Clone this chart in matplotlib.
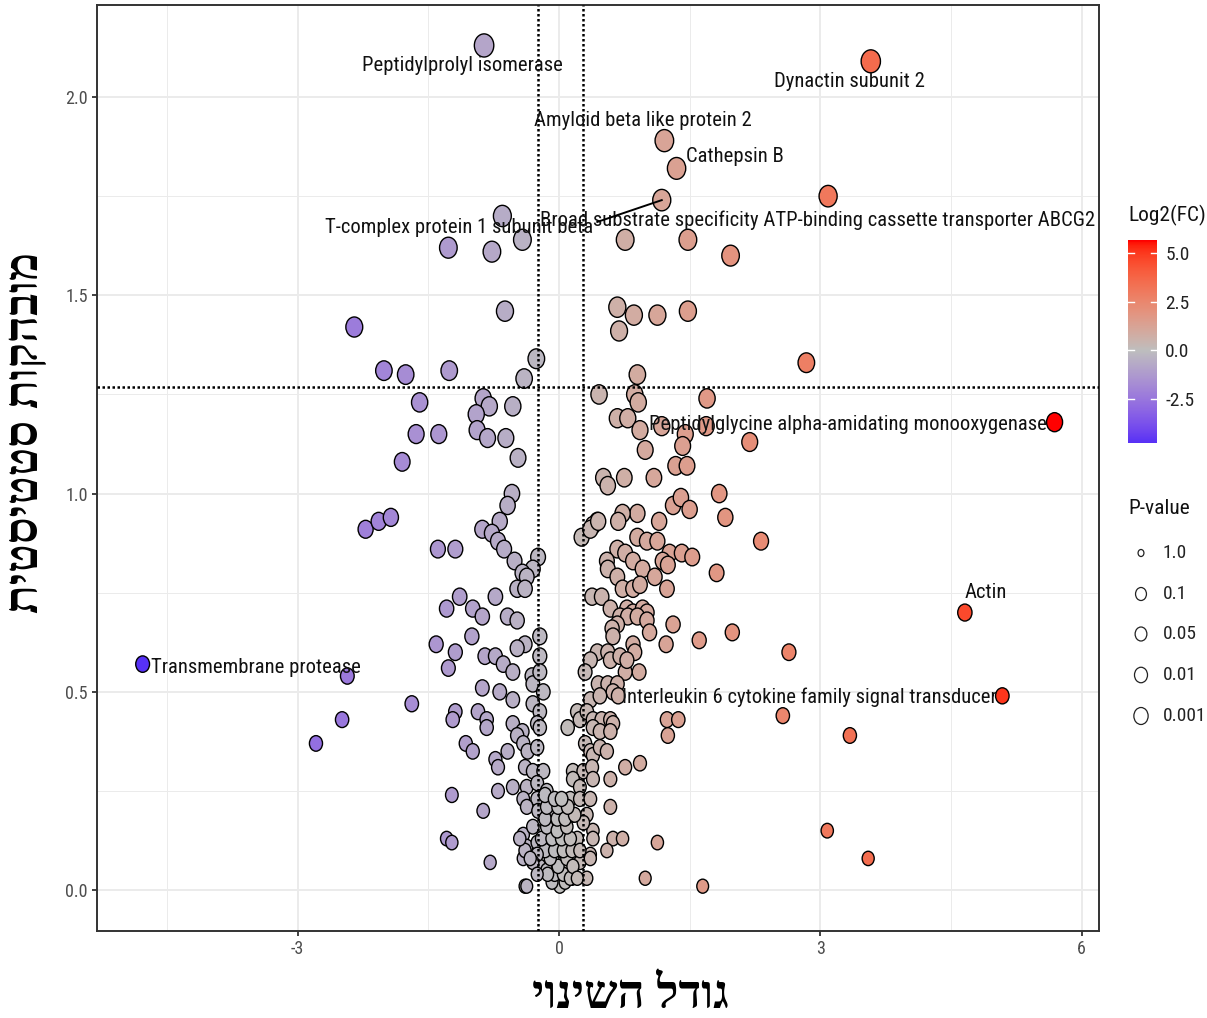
import numpy as np
import matplotlib
matplotlib.use("Agg")
import matplotlib.pyplot as plt
from matplotlib.path import Path
from matplotlib.colors import ListedColormap, Normalize
from matplotlib import font_manager

# ---------------- data ----------------
label_names = ["Peptidylprolyl isomerase", "Dynactin subunit 2", "Amyloid beta like protein 2",
               "Cathepsin B", "Broad substrate specificity ATP-binding cassette transporter ABCG2",
               "T-complex protein 1 subunit beta", "Peptidylglycine alpha-amidating monooxygenase",
               "Actin", "Interleukin 6 cytokine family signal transducer", "Transmembrane protease"]
label_fc = [-0.86, 3.58, 1.21, 1.35, 1.18, -0.65, 5.69, 4.66, 5.09, -4.78]
label_sig = [2.13, 2.09, 1.89, 1.82, 1.74, 1.70, 1.18, 0.70, 0.49, 0.57]
# text placement of the labels (x, y in data units)
label_text_x = [-1.11, 3.33, 0.96, 2.02, 2.97, -1.15, 3.32, 4.90, 2.88, -3.48]
label_text_y = [2.08, 2.04, 1.94, 1.85, 1.69, 1.67, 1.175, 0.75, 0.487, 0.562]

fc = [3.09, -0.42, -1.27, -0.77, 0.76, 1.48, 1.97, 0.67, 0.86, 0.69, 1.13, 1.48, -0.62, -2.35,
      -0.26, -0.40, 2.84, -2.01, -1.76, -1.26, 0.90, 0.46, 0.87, 0.91, 1.70, -1.60, -0.87, -0.80,
      -0.53, -0.95, -0.94, -0.82, -0.61, -1.64, -1.38, -0.47, -1.80, 0.67, 0.79, 0.93, 1.18, 1.45,
      1.69, 1.42, 2.19, 0.99, 1.34, 1.47, 0.51, 0.56, 0.75, 1.09, 1.84, 1.31, 1.40, 1.50, 0.90,
      0.73, 0.44, 0.68, 1.15, 1.91, 0.39, -0.54, -0.59, 2.32, 1.81, -0.68, -0.88, -0.77, -0.70,
      -2.22, -2.07, -1.93, -1.39, -1.19, -0.63, -0.51, -0.24, -0.30, -0.42, -0.37, -0.48, -0.39,
      -0.73, -1.29, -1.14, -0.99, -0.88, -0.59, -0.48, -1.00, -0.22, -0.39, -0.48, -1.41, -1.19,
      -1.27, -0.85, -0.73, -0.64, -0.53, -0.31, -0.30, -0.18, -0.22, -0.22, -0.88, -0.68, -0.53,
      -1.69, -1.19, -1.22, -0.93, -0.83, -0.83, -0.53, -0.42, -0.48, -0.30, -0.22, -0.25, -0.22,
      -0.41, -0.36, -0.25, -1.07, -0.99, -0.73, -0.59, -0.70, -0.39, -0.30, -0.18, -1.23, -0.70,
      -0.53, -0.37, -0.25, -0.41, -0.25, -0.14, -0.07, -0.87, -0.37, -0.24, -0.10, -1.29, -1.23,
      -0.41, -0.30, -0.37, -0.25, -0.79, -0.41, -0.28, -0.22, -0.39, -0.14, -0.07, 0.01, 0.07,
      0.15, -0.07, 0.03, 0.13,
      0.26, 0.36, 0.45, 0.90, 1.01, 1.13, 0.67, 0.76, 0.55, 0.56, 0.85, 0.96, 1.27, 1.41, 1.53,
      1.19, 1.25, 1.10, 1.24, 0.67, 0.73, 0.85, 0.93, 0.38, 0.49, 0.59, 0.78, 0.85, 0.96, 1.01,
      0.70, 0.79, 0.90, 1.01, 0.67, 0.61, 0.62, 1.31, 1.04, 1.23, 1.61, 1.99, 2.64, 0.85, 0.87,
      0.92, 0.76, 0.44, 0.36, 0.30, 0.56, 0.59, 0.70, 0.78, 0.45, 0.56, 0.67, 0.62, 0.68, 0.36,
      0.47, 0.21, 0.10, 0.24, 0.32, 0.39, 0.49, 0.59, 0.62, 0.39, 0.47, 0.59, 0.30, 0.36, 0.39,
      0.47, 0.55, 1.24, 1.37, 1.25, 2.57, 3.34, 0.76, 0.93, 0.16, 0.28, 0.38, 0.16, 0.24, 0.39,
      0.59, 0.13, 0.24, 0.36, 0.16, 0.32, 0.59, 0.39, 0.28, 0.62, 0.73, 1.13, 0.36, 0.55, 0.99,
      1.65, 0.16, 0.24, 0.32, 0.13, 0.21, 3.08, 3.55, -2.43, -2.49, -2.79,
      -0.08, 0.07, -0.05, 0.05, 0.13, -0.13, -0.01, -0.10, 0.09, 0.16, 0.21, -0.16, -0.05, 0.05,
      0.15, 0.24, -0.20, -0.08, 0.03, 0.13, -0.14, -0.02, 0.09, -0.16, -0.02, 0.07, 0.18, -0.14,
      -0.01, 0.10, -0.16, -0.05, 0.03, -0.25, -0.30, -0.25, -0.39, -0.33, -0.37, -0.45, 0.36, 0.39]

sig = [1.75, 1.64, 1.62, 1.61, 1.64, 1.64, 1.60, 1.47, 1.45, 1.41, 1.45, 1.46, 1.46, 1.42,
       1.34, 1.29, 1.33, 1.31, 1.30, 1.31, 1.30, 1.25, 1.25, 1.23, 1.24, 1.23, 1.24, 1.22,
       1.22, 1.20, 1.16, 1.14, 1.14, 1.15, 1.15, 1.09, 1.08, 1.19, 1.19, 1.16, 1.17, 1.15,
       1.17, 1.12, 1.13, 1.11, 1.07, 1.07, 1.04, 1.02, 1.04, 1.04, 1.00, 0.97, 0.99, 0.96, 0.95,
       0.95, 0.93, 0.93, 0.93, 0.94, 0.92, 1.00, 0.97, 0.88, 0.80, 0.93, 0.91, 0.90, 0.88,
       0.91, 0.93, 0.94, 0.86, 0.86, 0.86, 0.83, 0.84, 0.81, 0.80, 0.79, 0.76, 0.76,
       0.74, 0.71, 0.74, 0.71, 0.69, 0.69, 0.68, 0.64, 0.64, 0.62, 0.61, 0.62, 0.60,
       0.56, 0.59, 0.59, 0.57, 0.55, 0.54, 0.52, 0.50, 0.59, 0.55, 0.51, 0.50, 0.48,
       0.47, 0.45, 0.43, 0.45, 0.43, 0.41, 0.42, 0.40, 0.39, 0.47, 0.45, 0.42, 0.41,
       0.37, 0.35, 0.36, 0.37, 0.35, 0.33, 0.35, 0.31, 0.31, 0.30, 0.30, 0.24, 0.25,
       0.26, 0.26, 0.27, 0.23, 0.23, 0.25, 0.22, 0.20, 0.21, 0.20, 0.19, 0.13, 0.12,
       0.14, 0.16, 0.11, 0.12, 0.07, 0.08, 0.08, 0.06, 0.01, 0.05, 0.03, 0.01, 0.05,
       0.03, 0.08, 0.10, 0.08,
       0.89, 0.91, 0.93, 0.89, 0.88, 0.88, 0.86, 0.85, 0.83, 0.81, 0.83, 0.81, 0.85, 0.85, 0.84,
       0.83, 0.82, 0.79, 0.76, 0.79, 0.76, 0.76, 0.77, 0.74, 0.74, 0.71, 0.71, 0.70, 0.71, 0.70,
       0.69, 0.69, 0.69, 0.68, 0.67, 0.66, 0.64, 0.67, 0.65, 0.62, 0.63, 0.65, 0.60, 0.62, 0.60,
       0.55, 0.55, 0.60, 0.58, 0.55, 0.60, 0.58, 0.59, 0.58, 0.52, 0.52, 0.52, 0.50, 0.49, 0.48,
       0.49, 0.45, 0.41, 0.43, 0.45, 0.43, 0.43, 0.43, 0.42, 0.41, 0.40, 0.40, 0.37, 0.35, 0.34,
       0.36, 0.35, 0.43, 0.43, 0.39, 0.44, 0.39, 0.31, 0.32, 0.30, 0.30, 0.31, 0.28, 0.26, 0.28,
       0.28, 0.23, 0.23, 0.23, 0.19, 0.19, 0.21, 0.15, 0.17, 0.13, 0.13, 0.12, 0.09, 0.10, 0.03,
       0.01, 0.04, 0.07, 0.03, 0.11, 0.13, 0.15, 0.08, 0.54, 0.43, 0.37,
       0.02, 0.02, 0.04, 0.04, 0.03, 0.04, 0.06, 0.08, 0.08, 0.06, 0.03, 0.10, 0.10, 0.10,
       0.10, 0.10, 0.13, 0.13, 0.13, 0.13, 0.16, 0.15, 0.16, 0.18, 0.18, 0.18, 0.19, 0.21,
       0.21, 0.21, 0.24, 0.23, 0.23, 0.09, 0.07, 0.04, 0.10, 0.08, 0.01, 0.13, 0.08, 0.13]

fc_threshold = [-0.24, 0.275]
sig_threshold = 1.27

x_ticks = [-3, 0, 3, 6]
y_ticks = [0.0, 0.5, 1.0, 1.5, 2.0]
cbar_ticks = [-2.5, 0.0, 2.5, 5.0]
pval_breaks = ["1.0", "0.1", "0.05", "0.01", "0.001"]

xlabel = "גודל השינוי"
ylabel = "מובהקות סטטיסטית"

# ---------------- fonts ----------------
installed = {f.name for f in font_manager.fontManager.ttflist}
if 'Roboto Condensed' in installed:
    NARROW, FS = 'Roboto Condensed', 0.96
elif 'Liberation Sans Narrow' in installed:
    NARROW, FS = 'Liberation Sans Narrow', 1.0
else:
    NARROW, FS = 'Liberation Sans', 0.84
HEB = ['Liberation Serif', 'DejaVu Serif', 'DejaVu Sans']

# ---------------- colour scale (Lab interpolation like ggplot gradient2) ----------------
_M = np.array([[0.4124, 0.3576, 0.1805], [0.2126, 0.7152, 0.0722], [0.0193, 0.1192, 0.9505]])
_WHITE = np.array([0.95047, 1.0, 1.08883])


def srgb_to_lab(rgb):
    rgb = np.asarray(rgb, float)
    c = np.where(rgb <= 0.04045, rgb / 12.92, ((rgb + 0.055) / 1.055) ** 2.4)
    xyz = _M @ c / _WHITE
    f = np.where(xyz > 0.008856, np.cbrt(xyz), 7.787 * xyz + 16 / 116)
    return np.array([116 * f[1] - 16, 500 * (f[0] - f[1]), 200 * (f[1] - f[2])])


def lab_to_srgb(lab):
    L, a, b = lab
    fy = (L + 16) / 116
    f = np.array([fy + a / 500, fy, fy - b / 200])
    xyz = np.where(f ** 3 > 0.008856, f ** 3, (f - 16 / 116) / 7.787) * _WHITE
    c = np.clip(np.linalg.inv(_M) @ xyz, 0, 1)
    s = np.where(c <= 0.0031308, 12.92 * c, 1.055 * c ** (1 / 2.4) - 0.055)
    return np.clip(s, 0, 1)


low, mid, high = srgb_to_lab([0, 0, 1]), srgb_to_lab([0.745, 0.745, 0.745]), srgb_to_lab([1, 0, 0])
cols = []
for t in np.linspace(0, 1, 256):
    if t < 0.5:
        u = t / 0.5
        lab = low * (1 - u) + mid * u
    else:
        u = (t - 0.5) / 0.5
        lab = mid * (1 - u) + high * u
    cols.append(lab_to_srgb(lab))
cmap = ListedColormap(cols)

all_fc = np.array(fc + label_fc)
all_sig = np.array(sig + label_sig)
fc_min, fc_max = all_fc.min(), all_fc.max()
lim = max(abs(fc_min), abs(fc_max))
norm = Normalize(vmin=-lim, vmax=lim)

# ---------------- figure ----------------
W, H, DPI = 1207, 1018, 100
fig = plt.figure(figsize=(W / DPI, H / DPI), dpi=DPI)

ax = fig.add_axes([97 / W, 1 - 931 / H, (1099 - 97) / W, (931 - 5) / H])
ax.set_xlim(-5.304, 6.200)
ax.set_ylim(-0.103, 2.232)
ax.set_xticks(x_ticks)
ax.set_xticklabels([str(v) for v in x_ticks])
ax.set_yticks(y_ticks)
ax.set_yticklabels([f"{v:.1f}" for v in y_ticks])
ax.set_xticks([-4.5, -1.5, 1.5, 4.5], minor=True)
ax.set_yticks([0.25, 0.75, 1.25, 1.75], minor=True)
ax.grid(which='major', color='#EBEBEB', lw=1.4)
ax.grid(which='minor', color='#EBEBEB', lw=0.7)
ax.set_axisbelow(True)
ax.tick_params(which='minor', length=0)
ax.tick_params(which='major', length=3.5, width=1.3, color='#333333', labelcolor='#4D4D4D',
               labelsize=13.5 * FS, pad=3)
for lbl in ax.get_xticklabels() + ax.get_yticklabels():
    lbl.set_family(NARROW)
for sp in ax.spines.values():
    sp.set_color('#333333')
    sp.set_linewidth(1.4)

# elliptical marker (reference is horizontally squeezed)
uc = Path.unit_circle()
ell = Path(uc.vertices * np.array([0.84, 1.0]), uc.codes)


def size_for(s):
    h_px = 14 + 4.3 * np.asarray(s)
    return (h_px * 72 / DPI) ** 2


ax.scatter(all_fc, all_sig, s=size_for(all_sig), c=all_fc, cmap=cmap, norm=norm,
           marker=ell, edgecolors='black', linewidths=1.0, zorder=3)

for v in fc_threshold:
    ax.axvline(v, color='black', lw=1.8, ls=(0, (1, 1)), zorder=4)
ax.axhline(sig_threshold, color='black', lw=1.8, ls=(0, (1, 1)), zorder=4)

for name, tx, ty in zip(label_names, label_text_x, label_text_y):
    ax.text(tx, ty, name, ha='center', va='center', fontsize=15.5 * FS, family=NARROW,
            color='#111111', zorder=5)
# connector for the ABCG2 label
ax.plot([0.44, label_fc[4]], [1.685, label_sig[4]], color='black', lw=1.4, zorder=5)

# axis titles (Hebrew, reversed for left-to-right rendering)
fig.text(27 / W, 1 - 432 / H, ylabel[::-1], rotation=90, ha='center', va='center',
         fontsize=34, family=HEB, weight='bold', color='black')
fig.text(630 / W, 1 - 997 / H, xlabel[::-1], ha='center', va='center',
         fontsize=34, family=HEB, weight='bold', color='black')

# ---------------- colour bar ----------------
cax = fig.add_axes([1128 / W, 1 - 443 / H, 29 / W, 203 / H])
vals = np.linspace(fc_min, fc_max, 300)
cax.imshow(vals[:, None], aspect='auto', cmap=cmap, norm=norm, origin='lower',
           extent=[0, 1, fc_min, fc_max])
cax.set_xlim(0, 1)
cax.set_ylim(fc_min, fc_max)
for t in cbar_ticks:
    cax.plot([0, 0.2], [t, t], color='white', lw=1.0)
    cax.plot([0.8, 1], [t, t], color='white', lw=1.0)
cax.set_xticks([])
cax.set_yticks(cbar_ticks)
cax.set_yticklabels([f"{t:.1f}" for t in cbar_ticks])
cax.yaxis.tick_right()
cax.tick_params(length=0, pad=6, labelsize=14.5 * FS, labelcolor='#222222')
for lbl in cax.get_yticklabels():
    lbl.set_family(NARROW)
for sp in cax.spines.values():
    sp.set_visible(False)
fig.text(1128 / W, 1 - 215 / H, "Log2(FC)", ha='left', va='center', fontsize=16 * FS,
         family=NARROW, color='#111111')

# ---------------- size legend ----------------
fig.text(1128 / W, 1 - 508 / H, "P-value", ha='left', va='center', fontsize=16 * FS,
         family=NARROW, color='#111111')
lax = fig.add_axes([0, 0, 1, 1])
lax.set_xlim(0, W)
lax.set_ylim(H, 0)
lax.axis('off')
leg_y = [553, 594, 634, 675, 716]
leg_h = [7, 13, 14, 15.5, 17]
lax.scatter([1141] * len(leg_y), leg_y, s=[(h * 72 / DPI) ** 2 for h in leg_h], marker=ell,
            facecolors='white', edgecolors='#222222', linewidths=0.9)
for yy, lab in zip(leg_y, pval_breaks):
    lax.text(1163, yy, lab, ha='left', va='center', fontsize=14.5 * FS, family=NARROW,
             color='#222222')

fig.savefig("out.png", dpi=DPI)
